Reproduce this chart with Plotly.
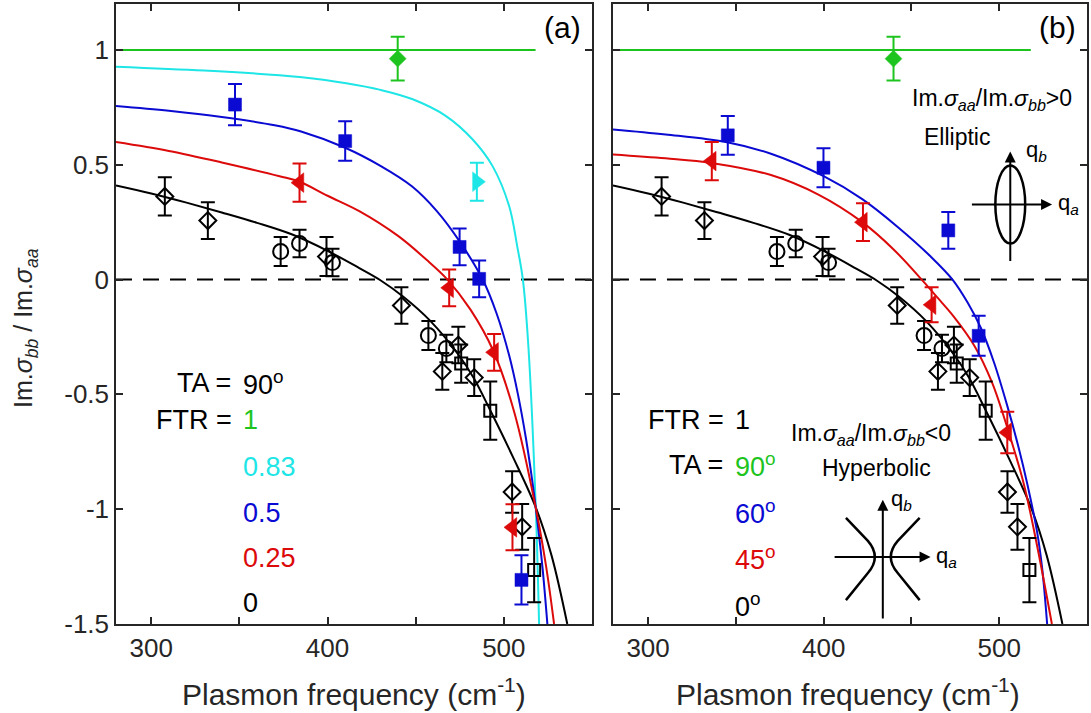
import plotly.graph_objects as go

# ---------------- data ----------------
# black open markers (shared by both panels)
blk_dia_x = [307.7, 332.1, 399.4, 441.9, 465.1, 474.2, 483.2, 504.7, 510.4]
blk_dia_y = [0.362, 0.257, 0.100, -0.113, -0.400, -0.285, -0.427, -0.925, -1.077]
blk_dia_e = [0.083, 0.080, 0.085, 0.080, 0.080, 0.080, 0.080, 0.090, 0.100]
blk_cir_x = [373.4, 384.1, 402.8, 457.2, 467.4]
blk_cir_y = [0.122, 0.157, 0.074, -0.244, -0.300]
blk_cir_e = [0.063, 0.060, 0.060, 0.063, 0.060]
blk_sq_x = [475.8, 492.3, 517.2]
blk_sq_y = [-0.366, -0.571, -1.265]
blk_sq_e = [0.083, 0.127, 0.140]

green_x = [439.8]
green_y = [0.962]
green_e = [0.095]

# panel (a) coloured markers
a_blue_x = [347.5, 410.0, 474.9, 486.0, 510.0]
a_blue_y = [0.762, 0.603, 0.142, 0.003, -1.308]
a_blue_e = [0.090, 0.086, 0.080, 0.080, 0.107]
a_red_x = [384.1, 469.0, 494.5, 504.9]
a_red_y = [0.422, -0.036, -0.317, -1.079]
a_red_e = [0.083, 0.080, 0.080, 0.100]
a_cyan_x = [484.7]
a_cyan_y = [0.426]
a_cyan_e = [0.083]

# panel (b) coloured markers
b_blue_x = [345.4, 399.9, 471.0, 488.3]
b_blue_y = [0.628, 0.487, 0.214, -0.245]
b_blue_e = [0.084, 0.085, 0.080, 0.087]
b_red_x = [336.3, 422.4, 461.5, 504.6]
b_red_y = [0.516, 0.250, -0.110, -0.666]
b_red_e = [0.083, 0.082, 0.076, 0.090]

# model curves
green_line_x = [280, 518]
green_line_y = [1.0, 1.0]

blk_curve_x = [280, 300, 320, 340, 360, 380, 400, 418, 430, 443, 458, 475, 483, 492, 505, 518, 527, 536]
blk_curve_y = [0.41, 0.375, 0.335, 0.292, 0.247, 0.196, 0.125, 0.05, -0.003, -0.075, -0.178, -0.335, -0.43, -0.565, -0.77, -0.99, -1.2, -1.5]

a_cyan_curve_x = [280, 330, 372.8, 384.2, 410.6, 430, 448.3, 467.2, 482.2, 493.6, 503, 507.7, 510.8, 514, 518.1, 520]
a_cyan_curve_y = [0.927, 0.91, 0.89, 0.882, 0.855, 0.826, 0.785, 0.712, 0.611, 0.494, 0.32, 0.14, 0.0, -0.3, -0.99, -1.5]

a_blue_curve_x = [280, 310, 340, 370, 385, 410, 430, 448, 462, 475, 488, 496, 503, 508, 512.5, 516, 519, 522, 524.7]
a_blue_curve_y = [0.756, 0.735, 0.708, 0.672, 0.645, 0.574, 0.495, 0.405, 0.298, 0.165, 0.0, -0.15, -0.33, -0.5, -0.69, -0.87, -1.05, -1.26, -1.5]

a_red_curve_x = [280, 310, 340, 372.8, 384.2, 400, 418, 440, 456, 468, 481, 494, 506, 518, 524, 528.5]
a_red_curve_y = [0.599, 0.56, 0.51, 0.45, 0.426, 0.365, 0.298, 0.19, 0.087, 0.0, -0.13, -0.31, -0.58, -0.99, -1.25, -1.5]

b_blue_curve_x = [280, 310, 345, 370, 400, 422, 442, 461, 473.4, 482, 489.5, 497, 504.6, 511, 516, 521.6, 524.5, 527.3]
b_blue_curve_y = [0.654, 0.632, 0.598, 0.548, 0.45, 0.35, 0.23, 0.1, 0.0, -0.1, -0.21, -0.36, -0.55, -0.73, -0.89, -1.1, -1.26, -1.5]

b_red_curve_x = [280, 310, 336, 370, 397, 422, 440, 457, 465, 474, 486, 496, 505, 514, 521.6, 530]
b_red_curve_y = [0.545, 0.528, 0.508, 0.455, 0.37, 0.25, 0.13, -0.01, -0.08, -0.16, -0.29, -0.45, -0.655, -0.89, -1.16, -1.5]

zero_x = [280, 550]
zero_y = [0, 0]

x_ticks = [300, 350, 400, 450, 500]
x_ticktext = ["300", "", "400", "", "500"]
y_ticks = [-1.5, -1, -0.5, 0, 0.5, 1]
y_ticktext = ["-1.5", "-1", "-0.5", "0", "0.5", "1"]

# ---------------- styles ----------------
GREEN = "#1ec41e"
CYAN = "#1ee6e6"
BLUE = "#0a0ad2"
RED = "#dc0a0a"
BLACK = "#000000"
AX = "#262626"
FONT = "Liberation Sans, Arial, sans-serif"

fig = go.Figure()


def curve(x, y, color, xa, ya):
    fig.add_trace(go.Scatter(x=x, y=y, mode="lines", xaxis=xa, yaxis=ya,
                             line=dict(color=color, width=2, shape="spline", smoothing=1.0),
                             hoverinfo="skip", showlegend=False))


def pts(x, y, e, color, symbol, size, xa, ya, open_=False):
    marker = dict(symbol=symbol, size=size, color=color)
    if open_:
        marker["line"] = dict(color=color, width=2)
    else:
        marker["line"] = dict(color=color, width=0.5)
    fig.add_trace(go.Scatter(x=x, y=y, mode="markers", xaxis=xa, yaxis=ya,
                             marker=marker,
                             error_y=dict(type="data", array=e, visible=True,
                                          color=color, thickness=2, width=7),
                             showlegend=False))


for xa, ya in (("x", "y"), ("x2", "y2")):
    fig.add_trace(go.Scatter(x=zero_x, y=zero_y, mode="lines", xaxis=xa, yaxis=ya,
                             line=dict(color=BLACK, width=2, dash="16px,11px"),
                             hoverinfo="skip", showlegend=False))
    curve(green_line_x, green_line_y, GREEN, xa, ya)
    curve(blk_curve_x, blk_curve_y, BLACK, xa, ya)

# panel a curves
curve(a_cyan_curve_x, a_cyan_curve_y, CYAN, "x", "y")
curve(a_blue_curve_x, a_blue_curve_y, BLUE, "x", "y")
curve(a_red_curve_x, a_red_curve_y, RED, "x", "y")
# panel b curves
curve(b_blue_curve_x, b_blue_curve_y, BLUE, "x2", "y2")
curve(b_red_curve_x, b_red_curve_y, RED, "x2", "y2")

for xa, ya in (("x", "y"), ("x2", "y2")):
    pts(blk_dia_x, blk_dia_y, blk_dia_e, BLACK, "diamond-open", 13, xa, ya, True)
    pts(blk_cir_x, blk_cir_y, blk_cir_e, BLACK, "circle-open", 15, xa, ya, True)
    pts(blk_sq_x, blk_sq_y, blk_sq_e, BLACK, "square-open", 12, xa, ya, True)
    pts(green_x, green_y, green_e, GREEN, "diamond", 13, xa, ya)

pts(a_blue_x, a_blue_y, a_blue_e, BLUE, "square", 13, "x", "y")
pts(a_red_x, a_red_y, a_red_e, RED, "triangle-left", 17, "x", "y")
pts(a_cyan_x, a_cyan_y, a_cyan_e, CYAN, "triangle-right", 17, "x", "y")
pts(b_blue_x, b_blue_y, b_blue_e, BLUE, "square", 13, "x2", "y2")
pts(b_red_x, b_red_y, b_red_e, RED, "triangle-left", 17, "x2", "y2")

axis_common = dict(range=[280, 550], tickvals=x_ticks, ticktext=x_ticktext,
                   ticks="inside", ticklen=7, tickwidth=1.5, tickcolor=AX,
                   showline=True, linecolor=AX, linewidth=1.5, mirror="allticks",
                   showgrid=False, zeroline=False,
                   tickfont=dict(family=FONT, size=26, color=AX))
yaxis_common = dict(range=[-1.5, 1.2], tickvals=y_ticks, ticktext=y_ticktext,
                    ticks="inside", ticklen=7, tickwidth=1.5, tickcolor=AX,
                    showline=True, linecolor=AX, linewidth=1.5, mirror="allticks",
                    showgrid=False, zeroline=False,
                    tickfont=dict(family=FONT, size=26, color=AX))

fig.update_layout(
    width=1091, height=713,
    margin=dict(l=116, r=2, t=4, b=89),
    paper_bgcolor="white", plot_bgcolor="white",
    font=dict(family=FONT, color=BLACK),
    showlegend=False,
    xaxis=dict(domain=[0, 0.4902], anchor="y", **axis_common),
    yaxis=dict(domain=[0, 1], anchor="x", **yaxis_common),
    xaxis2=dict(domain=[0.5118, 1.0], anchor="y2", **axis_common),
    yaxis2=dict(domain=[0, 1], anchor="x2", showticklabels=False,
                **{k: v for k, v in yaxis_common.items() if k != "tickfont"}),
)

ann = []


def txt(x, y, text, xref, yref, size=27, color=BLACK, xanchor="left", yanchor="middle", angle=0):
    ann.append(dict(x=x, y=y, xref=xref, yref=yref, text=text, showarrow=False,
                    xanchor=xanchor, yanchor=yanchor, textangle=angle,
                    font=dict(family=FONT, size=size, color=color)))


# axis titles
txt(-0.093, 0.477, "Im.<i>σ</i><sub><i>bb</i></sub> / Im.<i>σ</i><sub><i>aa</i></sub>",
    "paper", "paper", size=25, color=AX, xanchor="center", angle=-90)
txt(0.2456, -0.11, "Plasmon frequency (cm<sup>-1</sup>)", "paper", "paper", size=30, color=AX, xanchor="center")
txt(0.754, -0.11, "Plasmon frequency (cm<sup>-1</sup>)", "paper", "paper", size=30, color=AX, xanchor="center")

# panel labels
txt(533, 1.099, "(a)", "x", "y", size=30, xanchor="center")
txt(533, 1.099, "(b)", "x2", "y2", size=30, xanchor="center")

# panel a legend text
colA = 350.8
txt(colA, -0.449, "TA = ", "x", "y", xanchor="right")
txt(colA, -0.449, "90<sup>o</sup>", "x", "y")
txt(colA, -0.611, "FTR = ", "x", "y", xanchor="right")
txt(colA, -0.611, "1", "x", "y", color=GREEN)
txt(colA, -0.815, "0.83", "x", "y", color=CYAN)
txt(colA, -1.016, "0.5", "x", "y", color=BLUE)
txt(colA, -1.212, "0.25", "x", "y", color=RED)
txt(colA, -1.409, "0", "x", "y")

# panel b legend text
colB = 348.6
txt(colB, -0.611, "FTR = ", "x2", "y2", xanchor="right")
txt(colB, -0.611, "1", "x2", "y2")
txt(colB, -0.807, "TA = ", "x2", "y2", xanchor="right")
txt(colB, -0.807, "90<sup>o</sup>", "x2", "y2", color=GREEN)
txt(colB, -1.012, "60<sup>o</sup>", "x2", "y2", color=BLUE)
txt(colB, -1.212, "45<sup>o</sup>", "x2", "y2", color=RED)
txt(colB, -1.417, "0<sup>o</sup>", "x2", "y2")

# panel b descriptive text
txt(496.1, 0.785, "Im.<i>σ</i><sub><i>aa</i></sub>/Im.<i>σ</i><sub><i>bb</i></sub>>0", "x2", "y2", size=23, xanchor="center")
txt(475.7, 0.619, "Elliptic", "x2", "y2", size=23, xanchor="center")
txt(427.2, -0.676, "Im.<i>σ</i><sub><i>aa</i></sub>/Im.<i>σ</i><sub><i>bb</i></sub><0", "x2", "y2", size=23, xanchor="center")
txt(430.0, -0.82, "Hyperbolic", "x2", "y2", size=23, xanchor="center")

# q labels
txt(514.0, 0.56, "q<sub><i>b</i></sub>", "x2", "y2", size=22)
txt(532.5, 0.327, "q<sub><i>a</i></sub>", "x2", "y2", size=22)
txt(437.5, -0.96, "q<sub><i>b</i></sub>", "x2", "y2", size=22)
txt(463.0, -1.208, "q<sub><i>a</i></sub>", "x2", "y2", size=22)


def arrow(x0, y0, x1, y1):
    ann.append(dict(x=x1, y=y1, ax=x0, ay=y0, xref="x2", yref="y2", axref="x2", ayref="y2",
                    text="", showarrow=True, arrowhead=2, arrowsize=1.1, arrowwidth=2,
                    arrowcolor=BLACK))


# elliptic icon axes
arrow(506.3, 0.074, 506.3, 0.558)
arrow(483.6, 0.327, 530.1, 0.327)
# hyperbolic icon axes
arrow(433.7, -1.483, 433.7, -0.959)
arrow(405.4, -1.208, 460.9, -1.208)

fig.update_layout(annotations=ann)

shapes = [
    dict(type="circle", xref="x2", yref="y2", x0=497.8, x1=514.8, y0=0.157, y1=0.497,
         line=dict(color=BLACK, width=2.5)),
    dict(type="path", xref="x2", yref="y2",
         path="M 412.7,-1.038 L 425.2,-1.138 Q 433.1,-1.208 425.2,-1.278 L 412.7,-1.396",
         line=dict(color=BLACK, width=2.5)),
    dict(type="path", xref="x2", yref="y2",
         path="M 454.7,-1.038 L 442.2,-1.138 Q 434.3,-1.208 442.2,-1.278 L 454.7,-1.396",
         line=dict(color=BLACK, width=2.5)),
]
fig.update_layout(shapes=shapes)

fig.write_html("out.html")
